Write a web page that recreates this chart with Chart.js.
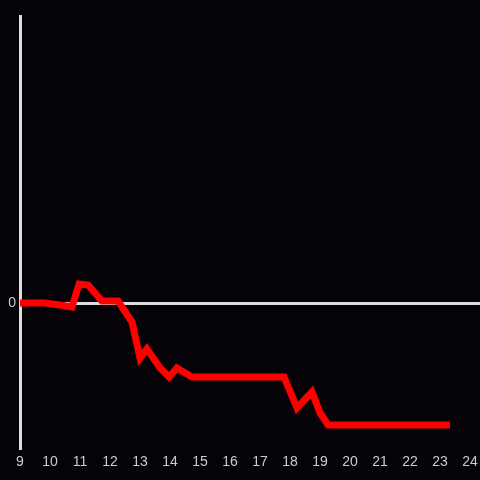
<!DOCTYPE html>
<html lang="en">
<head>
  <meta charset="UTF-8">
  <title>Line chart</title>
  <script src="https://cdn.jsdelivr.net/npm/chart.js"></script>
  <style>
    body { margin: 0; background: #050308; }
    .wrap { width: 480px; height: 480px; }
  </style>
</head>
<body>
  <div class="wrap"><canvas id="chart"></canvas></div>
  <script>
    // values (x in hours, y in arbitrary units)
    const xValues = [9, 9.83, 10.33, 10.73, 10.97, 11.27, 11.73, 12.27, 12.73, 13, 13.23, 13.67, 13.97, 14.23, 14.73, 17.8, 18.23, 18.73, 19, 19.27, 23.33];
    const yValues = [0, 0, -2, -4, 19, 18, 2, 2, -19, -55, -46, -65, -74, -65, -74, -74, -105, -89, -110, -122, -122];
    const xTicks = [9, 10, 11, 12, 13, 14, 15, 16, 17, 18, 19, 20, 21, 22, 23, 24];
    const yTicks = [0];

    const points = xValues.map((x, i) => ({ x: x, y: yValues[i] }));

    new Chart(document.getElementById('chart'), {
      type: 'line',
      data: {
        datasets: [{
          data: points,
          borderColor: '#ff0000',
          borderWidth: 7,
          pointRadius: 0,
          tension: 0,
          clip: false
        }]
      },
      options: {
        responsive: true,
        maintainAspectRatio: false,
        animation: false,
        layout: { padding: { top: 16, right: 0, left: 0, bottom: 0 } },
        plugins: { legend: { display: false }, tooltip: { enabled: false } },
        scales: {
          x: {
            type: 'linear',
            min: 9,
            max: 24.33,
            afterBuildTicks: s => { s.ticks = xTicks.map(v => ({ value: v })); },
            afterFit: s => { s.height = 32; s.paddingRight = 0; s.paddingLeft = 0; },
            border: { display: false },
            grid: { display: false, drawTicks: false },
            ticks: { color: '#cccccc', font: { family: 'Liberation Sans', size: 14 }, padding: 6 }
          },
          y: {
            min: -145,
            max: 287,
            afterBuildTicks: s => { s.ticks = yTicks.map(v => ({ value: v })); },
            afterFit: s => { s.width = 20; },
            border: { display: true, color: '#dddddd', width: 3 },
            grid: {
              drawTicks: false,
              lineWidth: 3,
              color: c => (c.tick && c.tick.value === 0) ? '#dddddd' : 'rgba(0,0,0,0)'
            },
            ticks: { color: '#cccccc', font: { family: 'Liberation Sans', size: 14 }, padding: 4 }
          }
        }
      }
    });
  </script>
</body>
</html>
